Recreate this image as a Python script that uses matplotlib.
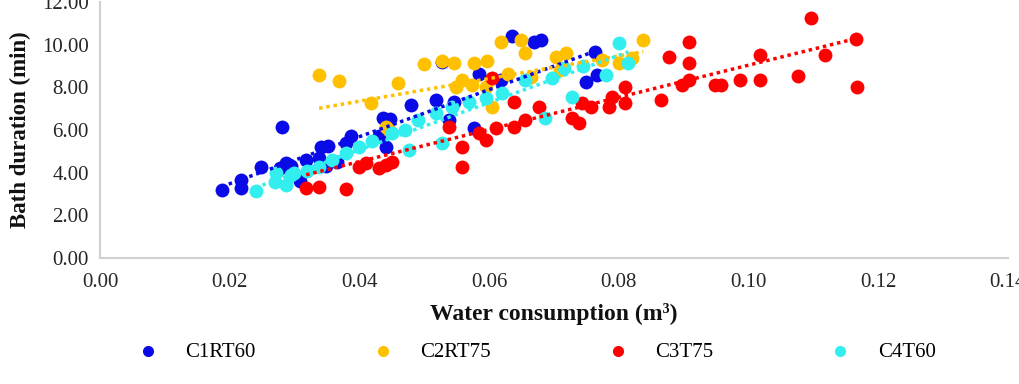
import numpy as np
import matplotlib
matplotlib.use("Agg")
import matplotlib.pyplot as plt

plt.rcParams['font.family'] = ['Liberation Serif', 'DejaVu Serif']

# C1RT60 (blue)
c1_x = [0.0188, 0.0218, 0.0218, 0.0249, 0.0280, 0.0277, 0.0287, 0.0295, 0.0308, 0.0318,
        0.0338, 0.0341, 0.0352, 0.0349, 0.0365, 0.0380, 0.0387, 0.0431, 0.0436, 0.0441,
        0.0448, 0.0480, 0.0518, 0.0528, 0.0538, 0.0546, 0.0577, 0.0585, 0.0618, 0.0636,
        0.0669, 0.0680, 0.0749, 0.0767, 0.0764]
c1_y = [3.20, 3.65, 3.28, 4.28, 6.14, 4.20, 4.44, 4.30, 3.62, 4.60,
        4.70, 5.20, 5.25, 4.30, 4.50, 5.40, 5.70, 5.70, 6.55, 5.20,
        6.50, 7.17, 7.41, 9.20, 6.47, 7.33, 6.08, 8.60, 8.35, 10.38,
        10.14, 10.22, 8.27, 8.58, 9.67]

# C2RT75 (yellow)
c2_x = [0.0338, 0.0369, 0.0418, 0.0441, 0.0446, 0.0459, 0.0500, 0.0528, 0.0546, 0.0549,
        0.0559, 0.0574, 0.0577, 0.0597, 0.0595, 0.0605, 0.0618, 0.0630, 0.0649, 0.0656,
        0.0665, 0.0703, 0.0710, 0.0718, 0.0774, 0.0800, 0.0820, 0.0838]
c2_y = [8.58, 8.30, 7.25, 6.16, 6.00, 8.19, 9.08, 9.24, 9.13, 8.03,
        8.35, 8.11, 9.16, 9.21, 8.03, 7.10, 10.14, 8.60, 10.20, 9.60,
        8.50, 9.44, 8.80, 9.60, 9.28, 9.13, 9.36, 10.22]

# C3T75 (red)
c3_x = [0.0318, 0.0338, 0.0379, 0.0400, 0.0410, 0.0430, 0.0441, 0.0450, 0.0538, 0.0559,
        0.0559, 0.0585, 0.0595, 0.0610, 0.0605, 0.0638, 0.0638, 0.0656, 0.0677, 0.0728,
        0.0738, 0.0743, 0.0758, 0.0785, 0.0789, 0.0810, 0.0810, 0.0866, 0.0877, 0.0908,
        0.0908, 0.0908, 0.0897, 0.0949, 0.0958, 0.0987, 0.1018, 0.1018, 0.1077, 0.1097,
        0.1118, 0.1166, 0.1168]
c3_y = [3.27, 3.35, 3.22, 4.28, 4.45, 4.22, 4.36, 4.52, 6.16, 5.20,
        4.28, 5.85, 5.53, 6.08, 8.44, 7.33, 6.16, 6.47, 7.09, 6.55,
        6.32, 7.25, 7.09, 7.09, 7.56, 8.03, 7.25, 7.41, 9.44, 10.10,
        9.13, 8.35, 8.11, 8.11, 8.11, 8.35, 9.52, 8.35, 8.53, 11.24,
        9.52, 10.27, 8.03]

# C4T60 (cyan)
c4_x = [0.0240, 0.0270, 0.0272, 0.0287, 0.0295, 0.0300, 0.0320, 0.0338, 0.0358, 0.0380,
        0.0400, 0.0420, 0.0450, 0.0477, 0.0470, 0.0490, 0.0518, 0.0528, 0.0543, 0.0569,
        0.0595, 0.0620, 0.0656, 0.0697, 0.0728, 0.0687, 0.0780, 0.0800, 0.0815, 0.0715,
        0.0745]
c4_y = [3.16, 3.58, 3.98, 3.42, 3.90, 4.00, 4.10, 4.27, 4.60, 4.90,
        5.20, 5.50, 5.86, 5.06, 6.00, 6.47, 6.80, 5.39, 7.10, 7.33,
        7.49, 7.72, 8.35, 8.42, 7.56, 6.55, 8.58, 10.07, 9.13, 8.90,
        9.00]

# linear trend lines: (x start, x end), (y start, y end)
c1_trend = ([0.0188, 0.0769], [3.35, 9.75])
c2_trend = ([0.0338, 0.0838], [7.02, 9.67])
c3_trend = ([0.0318, 0.1168], [3.90, 10.30])
c4_trend = ([0.0240, 0.0815], [3.30, 9.66])

series = [
    ('C1RT60', c1_x, c1_y, c1_trend, '#0a0ae6'),
    ('C2RT75', c2_x, c2_y, c2_trend, '#ffc000'),
    ('C3T75', c3_x, c3_y, c3_trend, '#ff0000'),
    ('C4T60', c4_x, c4_y, c4_trend, '#33eeee'),
]

fig = plt.figure(figsize=(10.2, 3.84), dpi=100)
ax = fig.add_axes([0.098, 0.328, 0.89, 0.667])

for name, xs, ys, tr, col in series:
    ax.scatter(xs, ys, s=100, color=col, label=name, zorder=3, linewidths=0)

for name, xs, ys, tr, col in series:
    ax.plot(tr[0], tr[1], linestyle=(0, (1, 1.1)), lw=2.5, color=col, zorder=4)

ax.set_xlim(0, 0.14)
ax.set_ylim(0, 12)
ax.set_xticks(np.arange(0, 0.141, 0.02))
ax.set_yticks(np.arange(0, 12.1, 2))
ax.xaxis.set_major_formatter(matplotlib.ticker.FormatStrFormatter('%.2f'))
ax.yaxis.set_major_formatter(matplotlib.ticker.FormatStrFormatter('%.2f'))
ax.tick_params(length=0, labelsize=15, colors='#262626')
ax.tick_params(axis='x', pad=11)
ax.tick_params(axis='y', pad=8)
for s in ['top', 'right']:
    ax.spines[s].set_visible(False)
for s in ['left', 'bottom']:
    ax.spines[s].set_color('#d0d0d0')
    ax.spines[s].set_linewidth(1.5)

ax.set_xlabel('Water consumption (m³)', fontsize=17, fontweight='bold',
              labelpad=8, color='#111111')
ax.set_ylabel('Bath duration (min)', fontsize=16.5, fontweight='bold',
              labelpad=8, color='#111111')

fig.legend(loc='center', bbox_to_anchor=(0.526, 0.083), ncol=4, frameon=False,
           fontsize=15, handlelength=1.0, handletextpad=1.3, columnspacing=5.6,
           scatterpoints=1, markerscale=0.8)

fig.savefig('out.png', dpi=100)
